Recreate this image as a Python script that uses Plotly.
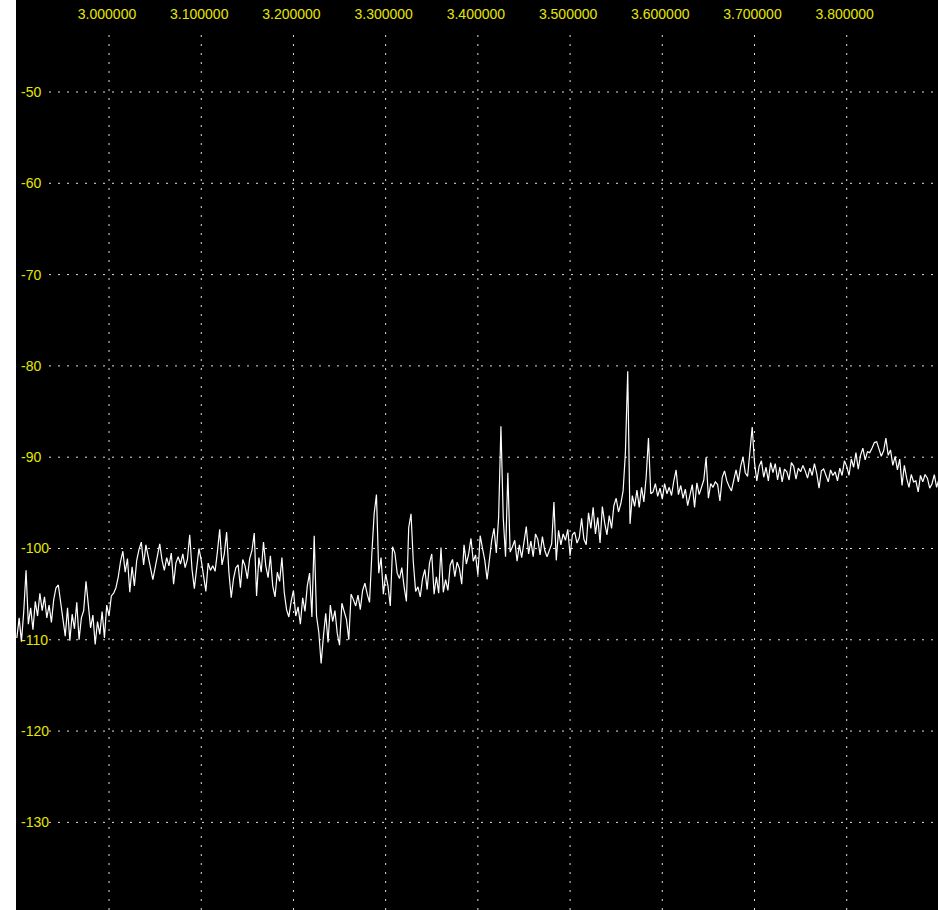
import plotly.graph_objects as go

# Sweep grid of the spectrum (MHz)
FREQ_START = 2.9
FREQ_STEP = 0.0025

# Measured level per frequency bin (dB), 401 bins from 2.900 to 3.900 MHz
LEVEL_DB = [
    -109.8, -107.6, -110.2, -106.9, -102.4, -108.3, -106.5, -108.9, -105.8, -107.4,
    -104.9, -106.8, -105.3, -107.6, -106.2, -108.1, -105.6, -104.3, -104.0, -105.9,
    -107.4, -109.6, -106.5, -110.1, -107.2, -108.8, -105.9, -110.0, -107.6, -106.8,
    -103.6, -106.4, -108.7, -107.3, -110.5, -108.0, -109.4, -106.9, -109.8, -106.2,
    -107.4, -105.2, -104.9, -104.3, -103.1, -101.4, -100.3, -102.6, -101.1, -104.8,
    -102.0, -104.1, -101.3, -100.1, -99.3, -101.8, -99.6, -100.9, -102.2, -103.4,
    -102.1, -100.6, -99.5, -101.3, -102.4, -101.0, -101.9, -100.5, -103.9, -101.6,
    -100.9, -101.7, -100.6, -102.1, -101.2, -98.5, -102.3, -104.4, -101.8, -100.0,
    -101.3, -102.9, -104.7, -101.6, -102.4, -101.9, -102.5, -100.4, -97.9, -101.8,
    -100.6, -98.2, -102.6, -105.4, -103.3, -102.1, -101.8, -104.3, -101.2, -101.9,
    -103.3, -101.1, -100.2, -98.3, -105.2, -101.0, -102.6, -99.3, -101.9, -103.2,
    -100.8, -104.1, -105.3, -102.6, -103.6, -101.0, -104.8, -106.7, -107.5, -105.8,
    -104.6, -107.4, -106.4, -108.3, -105.4, -106.9, -104.1, -102.7, -107.5, -98.6,
    -107.4, -109.2, -112.6, -109.6, -107.1, -110.3, -106.2, -108.0, -106.8, -109.3,
    -110.6, -106.0, -106.9, -107.8, -110.0, -105.0, -105.6, -106.3, -105.1, -106.7,
    -104.6, -103.8, -105.0, -105.9, -100.6, -96.2, -94.1, -102.7, -101.0, -105.0,
    -102.8, -104.1, -106.3, -99.8, -100.5, -102.7, -103.3, -102.1, -104.2, -105.8,
    -97.7, -96.2, -101.5, -104.7, -104.2, -105.3, -103.3, -102.3, -104.5, -101.6,
    -100.6, -105.0, -103.1, -104.9, -99.9, -104.8, -103.4, -104.6, -101.8, -101.2,
    -103.1, -101.5, -102.2, -103.9, -99.6, -101.7, -100.6, -98.9, -101.4, -100.7,
    -102.9, -98.6, -100.0, -101.3, -103.4, -101.0, -99.1, -97.8, -100.5, -96.6,
    -86.6, -96.6, -100.9, -91.7, -100.4, -99.8, -99.1, -101.4, -99.6, -101.0,
    -99.4, -97.6, -100.6, -99.2, -100.9, -98.4, -99.0, -100.7, -98.7, -100.2,
    -100.9, -100.2, -99.5, -94.9, -101.3, -98.0, -99.6, -98.4, -99.1, -97.9,
    -100.8, -98.5, -98.2, -99.4, -98.8, -96.7, -99.0, -99.6, -96.1, -97.8,
    -95.5, -98.4, -96.6, -99.4, -95.4, -97.2, -98.5, -96.4, -97.8, -95.3,
    -94.5, -96.0, -95.1, -93.7, -89.5, -80.6, -97.3, -94.2, -95.4, -93.6,
    -95.5, -93.3, -94.9, -92.2, -87.9, -94.0, -93.8, -92.9, -94.3, -93.4,
    -94.6, -92.9, -94.0, -93.3, -94.2, -92.6, -91.4, -94.1, -93.1, -94.5,
    -93.5, -95.3, -94.2, -93.0, -95.5, -92.8, -94.1, -93.2, -92.5, -90.0,
    -94.5, -92.9, -93.3, -92.7, -93.0, -94.8, -92.2, -91.5, -92.6, -93.2,
    -93.7, -92.5, -91.4, -92.7, -91.0, -90.0, -91.7, -92.1, -89.4, -86.7,
    -90.6, -92.6, -91.0, -90.4, -92.2, -91.1, -92.6, -90.6, -91.7, -90.7,
    -92.5, -91.1, -92.7, -91.3, -91.6, -92.5, -90.6, -91.0, -92.4, -91.2,
    -91.6, -90.9, -91.5, -92.3, -91.2, -92.0, -90.7, -91.8, -93.4, -91.5,
    -91.3, -91.9, -92.7, -91.4, -92.0, -91.6, -92.6, -91.2, -92.0, -90.4,
    -91.0, -92.0, -90.2, -91.1, -89.5, -91.3, -89.8, -89.0, -90.3, -89.4,
    -89.5, -89.0, -88.4, -88.3, -89.2, -89.9, -89.3, -87.9, -89.8, -89.2,
    -90.9, -89.9, -91.4, -90.2, -93.1, -90.9, -92.3, -93.3, -91.9, -92.7,
    -92.6, -93.8, -92.0, -92.7, -91.9, -92.3, -93.4, -92.9, -91.9, -93.3,
    -92.4,
]

FREQ_MHZ = [round(FREQ_START + i * FREQ_STEP, 4) for i in range(len(LEVEL_DB))]

# Axis ticks
X_TICKS = [3.0, 3.1, 3.2, 3.3, 3.4, 3.5, 3.6, 3.7, 3.8]
X_TICK_LABELS = ["3.000000", "3.100000", "3.200000", "3.300000", "3.400000",
                 "3.500000", "3.600000", "3.700000", "3.800000"]
Y_TICKS = [-50, -60, -70, -80, -90, -100, -110, -120, -130]
Y_TICK_LABELS = ["-50", "-60", "-70", "-80", "-90", "-100", "-110", "-120", "-130"]

X_RANGE = [2.8991, 3.8990]
Y_RANGE = [-139.6, -39.92]

LABEL_COLOR = "#e6e600"
GRID_COLOR = "#e0e0e0"
FONT = "Liberation Sans, Arial, sans-serif"

fig = go.Figure()
fig.add_trace(go.Scatter(
    x=FREQ_MHZ, y=LEVEL_DB, mode="lines",
    line=dict(color="white", width=1.2),
    hoverinfo="skip",
))

# Dotted grid, kept clear of the tick label bands
for xv in X_TICKS:
    fig.add_shape(type="line", xref="x", yref="paper",
                  x0=xv, x1=xv, y0=0, y1=1 - 31 / 910,
                  line=dict(color=GRID_COLOR, width=1, dash="2px,7px"),
                  layer="below")
for yv in Y_TICKS:
    fig.add_shape(type="line", xref="paper", yref="y",
                  x0=33 / 922, x1=1, y0=yv, y1=yv,
                  line=dict(color=GRID_COLOR, width=1, dash="2px,7px"),
                  layer="below")

fig.update_layout(
    width=938, height=910,
    margin=dict(l=16, r=0, t=0, b=0),
    paper_bgcolor="white", plot_bgcolor="black",
    showlegend=False,
    xaxis=dict(
        range=X_RANGE, side="top",
        tickmode="array", tickvals=X_TICKS, ticktext=X_TICK_LABELS,
        ticklabelposition="inside", ticks="", ticklabelshift=-2,
        ticklabelstandoff=6,
        showgrid=False, zeroline=False, showline=False,
        tickfont=dict(family=FONT, size=14, color=LABEL_COLOR),
    ),
    yaxis=dict(
        range=Y_RANGE,
        tickmode="array", tickvals=Y_TICKS, ticktext=Y_TICK_LABELS,
        ticklabelposition="inside", ticks="", ticklabelstandoff=2,
        showgrid=False, zeroline=False, showline=False,
        tickfont=dict(family=FONT, size=14, color=LABEL_COLOR),
    ),
)

fig.write_html("out.html")
